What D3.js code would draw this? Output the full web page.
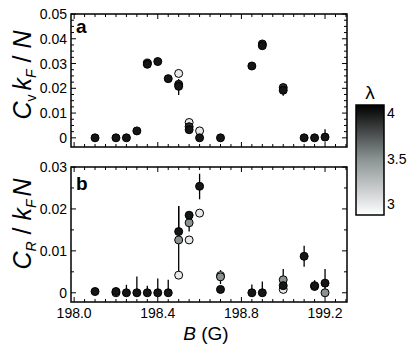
<!DOCTYPE html>
<html>
<head>
<meta charset="utf-8">
<script src="https://cdn.jsdelivr.net/npm/d3@7"></script>
<style>
  body { margin: 0; background: #fff; }
  svg { font-family: "Liberation Sans", Arial, sans-serif; }
</style>
</head>
<body>
<div id="chart"></div>
<script>
// magnetic field values (G), shared by both panels
var fields = [198.10, 198.20, 198.25, 198.30, 198.35, 198.40, 198.45, 198.50, 198.55,
              198.60, 198.70, 198.85, 198.90, 199.00, 199.10, 199.15, 199.20];

// panel a: C_v k_F / N, one array per lambda (null = no point)
var cvL4   = [0, 0, 0, 0.0028, 0.0297, 0.0308, 0.0239, 0.0208, 0.0033, 0, 0, 0.0290, 0.0372, 0.0192, 0, 0, 0.0003];
var cvL4Lo = [0, 0, 0, 0.0010, 0.0008, 0.0012, 0.0010, 0.0035, 0.0008, 0, 0, 0.0005, 0.0007, 0.0022, 0, 0, 0];
var cvL4Hi = [0, 0, 0, 0.0010, 0.0008, 0.0012, 0.0010, 0.0030, 0.0008, 0, 0, 0.0005, 0.0007, 0.0008, 0, 0, 0.0032];
var cvL39  = [null, null, null, null, 0.0302, null, null, 0.0216, 0.0045, null, null, null, 0.0379, 0.0203, null, null, null];
var cvL3   = [null, null, null, null, null, null, null, 0.0260, 0.0062, 0.0028, null, null, null, null, null, null, null];

// panel b: C_R / k_F N
var crL4    = [0.0003, 0.0003, 0, 0, 0, 0, 0, 0.0146, 0.0185, 0.0254, 0.0008, 0, 0, 0.0017, 0.0087, 0.0017, 0.0023];
var crL4Lo  = [0, 0, 0, 0, 0, 0, 0, 0, 0, 0.0031, 0, 0, 0, 0, 0.0025, 0.0012, 0.0023];
var crL4Hi  = [0, 0, 0.0019, 0.0039, 0.0017, 0.0034, 0.0031, 0.0061, 0, 0.0030, 0, 0.0020, 0.0027, 0, 0.0025, 0.0013, 0.0034];
var crL35   = [null, 0, null, null, null, null, null, 0.0126, 0.0167, null, 0.0038, null, null, 0.0031, null, 0.0015, 0];
var crL35Lo = [null, 0, null, null, null, null, null, 0.0084, 0.0021, null, 0.0017, null, null, 0.0014, null, 0, 0];
var crL35Hi = [null, 0, null, null, null, null, null, 0.0081, 0.0025, null, 0.0016, null, null, 0.0026, null, 0, 0];
var crL3    = [null, null, null, null, null, null, null, 0.0042, 0.0126, 0.0190, 0.0041, null, null, 0.0008, null, null, null];

var xTickLabels = [198.0, 198.4, 198.8, 199.2];
var cvTickLabels = [0, 0.01, 0.02, 0.03, 0.04, 0.05];
var crTickLabels = [0, 0.01, 0.02, 0.03];
var lambdaTicks = [3, 3.5, 4];

var W = 415, H = 350;
var svg = d3.select("#chart").append("svg").attr("width", W).attr("height", H);

var x = d3.scaleLinear().domain([197.985, 199.305]).range([71, 347]);
var ya = d3.scaleLinear().domain([-0.0037, 0.05]).range([147, 14]);
var yb = d3.scaleLinear().domain([-0.0022, 0.03]).range([302, 167]);

var lamScale = d3.scaleLinear().domain([2.88, 3.5, 4.09]).range(["#ffffff", "#8a9292", "#000000"]);

function series(vals, lam, lo, hi) {
    return fields.map(function (b, i) {
        return { b: b, v: vals[i], lam: lam, lo: lo ? lo[i] : 0, hi: hi ? hi[i] : 0 };
    }).filter(function (d) { return d.v !== null; });
}

function frame(y, top, bottom, minorStep, labels) {
    var g = svg.append("g");
    var left = x.range()[0], right = x.range()[1];
    // x ticks top and bottom, inward
    d3.range(198.0, 199.31, 0.05).forEach(function (b) {
        var major = Math.abs(b * 10 / 4 - Math.round(b * 10 / 4)) < 1e-6;
        var len = major ? 5 : 3;
        g.append("line").attr("x1", x(b)).attr("x2", x(b)).attr("y1", bottom).attr("y2", bottom - len);
        g.append("line").attr("x1", x(b)).attr("x2", x(b)).attr("y1", top).attr("y2", top + len);
    });
    var d0 = y.domain();
    d3.range(0, d0[1] + 1e-9, minorStep).forEach(function (v) {
        var major = Math.abs(v / 0.01 - Math.round(v / 0.01)) < 1e-6;
        var len = major ? 5 : 3;
        g.append("line").attr("x1", left).attr("x2", left + len).attr("y1", y(v)).attr("y2", y(v));
        g.append("line").attr("x1", right).attr("x2", right - len).attr("y1", y(v)).attr("y2", y(v));
    });
    g.selectAll("line").attr("stroke", "#000").attr("stroke-width", 1);
    g.append("rect").attr("x", left).attr("y", top).attr("width", right - left).attr("height", bottom - top)
        .attr("fill", "none").attr("stroke", "#000").attr("stroke-width", 1.5);
    g.selectAll(".ylab").data(labels).enter().append("text")
        .attr("x", left - 4).attr("y", function (d) { return y(d) + 5; })
        .attr("text-anchor", "end").attr("font-size", 14)
        .text(function (d) { return d === 0 ? "0" : d3.format(".2f")(d); });
}

function points(y, list) {
    var g = svg.append("g");
    list.forEach(function (s) {
        g.selectAll(null).data(s.filter(function (d) { return d.lo > 0 || d.hi > 0; })).enter().append("line")
            .attr("x1", function (d) { return x(d.b); }).attr("x2", function (d) { return x(d.b); })
            .attr("y1", function (d) { return y(d.v - d.lo); }).attr("y2", function (d) { return y(d.v + d.hi); })
            .attr("stroke", "#000").attr("stroke-width", 1.3);
    });
    list.forEach(function (s) {
        g.selectAll(null).data(s).enter().append("circle")
            .attr("cx", function (d) { return x(d.b); }).attr("cy", function (d) { return y(d.v); })
            .attr("r", 4)
            .attr("fill", function (d) { return lamScale(d.lam); })
            .attr("stroke", "#000").attr("stroke-width", 1);
    });
}

frame(ya, 14, 147, 0.0025, cvTickLabels);
frame(yb, 167, 302, 0.005, crTickLabels);

points(ya, [series(cvL3, 3), series(cvL39, 3.9), series(cvL4, 4, cvL4Lo, cvL4Hi)]);
points(yb, [series(crL3, 3), series(crL35, 3.5, crL35Lo, crL35Hi), series(crL4, 4, crL4Lo, crL4Hi)]);

// x tick labels under panel b
svg.selectAll(".xlab").data(xTickLabels).enter().append("text")
    .attr("x", function (d) { return x(d); }).attr("y", 318)
    .attr("text-anchor", "middle").attr("font-size", 14)
    .text(function (d) { return d.toFixed(1); });

// panel letters
svg.append("text").attr("x", 76).attr("y", 33).attr("font-size", 19).attr("font-weight", "bold").text("a");
svg.append("text").attr("x", 76).attr("y", 190).attr("font-size", 19).attr("font-weight", "bold").text("b");

// axis titles
var ta = svg.append("text").attr("transform", "translate(31,75) rotate(-90)")
    .attr("text-anchor", "middle").attr("font-size", 25);
ta.append("tspan").attr("font-style", "italic").text("C");
ta.append("tspan").attr("font-size", 14).attr("dy", 5).text("v");
ta.append("tspan").attr("dy", -5).attr("dx", 4).attr("font-style", "italic").text("k");
ta.append("tspan").attr("font-size", 14).attr("dy", 5).attr("font-style", "italic").text("F");
ta.append("tspan").attr("dy", -5).text(" / ");
ta.append("tspan").attr("font-style", "italic").text("N");

var tb = svg.append("text").attr("transform", "translate(31,224) rotate(-90)")
    .attr("text-anchor", "middle").attr("font-size", 25);
tb.append("tspan").attr("font-style", "italic").text("C");
tb.append("tspan").attr("font-size", 14).attr("dy", 5).attr("font-style", "italic").text("R");
tb.append("tspan").attr("dy", -5).text(" / ");
tb.append("tspan").attr("font-style", "italic").text("k");
tb.append("tspan").attr("font-size", 14).attr("dy", 5).attr("font-style", "italic").text("F");
tb.append("tspan").attr("dy", -5).attr("dx", 3).attr("font-style", "italic").text("N");

var tx = svg.append("text").attr("x", 206).attr("y", 340).attr("text-anchor", "middle").attr("font-size", 19);
tx.append("tspan").attr("font-style", "italic").text("B");
tx.append("tspan").text(" (G)");

// colour bar for lambda
var cb = d3.scaleLinear().domain([2.88, 4.09]).range([215, 105]);
var defs = svg.append("defs");
var grad = defs.append("linearGradient").attr("id", "lamgrad")
    .attr("x1", 0).attr("y1", 1).attr("x2", 0).attr("y2", 0);
d3.range(0, 1.0001, 0.1).forEach(function (t) {
    var lam = cb.domain()[0] + t * (cb.domain()[1] - cb.domain()[0]);
    grad.append("stop").attr("offset", t).attr("stop-color", lamScale(lam));
});
svg.append("rect").attr("x", 356).attr("y", cb.range()[1]).attr("width", 28)
    .attr("height", cb.range()[0] - cb.range()[1])
    .attr("fill", "url(#lamgrad)").attr("stroke", "#000").attr("stroke-width", 1.5);
svg.selectAll(".cblab").data(lambdaTicks).enter().append("text")
    .attr("x", 387).attr("y", function (d) { return cb(d) + 5; })
    .attr("font-size", 14).text(function (d) { return d; });
svg.append("text").attr("x", 370).attr("y", 99).attr("text-anchor", "middle")
    .attr("font-size", 19).text("λ");
</script>
</body>
</html>
